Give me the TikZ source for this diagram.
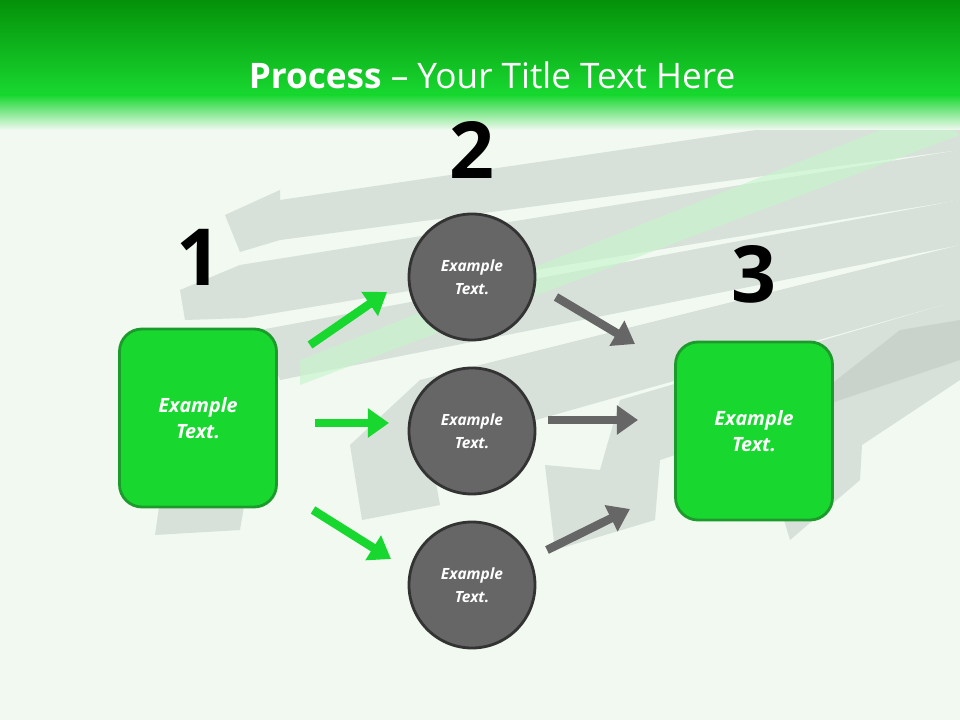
\documentclass[tikz,border=0pt]{standalone}
\usepackage{fontspec}
\setmainfont{Open Sans}
\usetikzlibrary{arrows.meta}
\definecolor{bg}{HTML}{F1F9F1}
\definecolor{gbox}{HTML}{18D830}
\definecolor{gedge}{HTML}{1C9A2C}
\definecolor{dk}{HTML}{666666}
\definecolor{gray3d}{HTML}{B8C4BC}
\tikzset{
  box/.style={draw=gedge,line width=2pt,fill=gbox,rounded corners=16pt,minimum width=157*0.025cm,minimum height=178*0.025cm,text=white,font=\bfseries\itshape\fontsize{14}{18}\selectfont,align=center},
  circ/.style={circle,draw=black!80,line width=2pt,fill=dk,minimum size=126*0.025cm,text=white,font=\bfseries\itshape\fontsize{11}{16}\selectfont,align=center},
  num/.style={font=\bfseries\fontsize{56}{60}\selectfont},
  garr/.style={draw=gbox,line width=6pt,-{Triangle[length=15pt,width=20pt]}},
  karr/.style={draw=dk,line width=6pt,-{Triangle[length=15pt,width=20pt]}},
  band/.style={fill=gray3d,opacity=0.45}
}
\begin{document}
\begin{tikzpicture}[x=0.025cm,y=-0.025cm]
\useasboundingbox (0,0) rectangle (960,720);
\fill[bg] (0,0) rectangle (960,720);
% background 3D arrows
\fill[band] (960,100) -- (280,200) -- (280,190) -- (225,215) -- (240,252) -- (280,240) -- (960,150) -- cycle;
\fill[band] (960,150) -- (240,265) -- (180,290) -- (185,320) -- (245,318) -- (960,200) -- cycle;
\fill[band] (960,200) -- (260,330) -- (280,380) -- (960,245) -- cycle;
\fill[gbox!25,opacity=0.6] (930,110) -- (300,360) -- (300,385) -- (960,135) -- cycle;
\fill[band] (960,245) -- (420,380) -- (350,445) -- (362,520) -- (440,505) -- (430,450) -- (960,300) -- cycle;
\fill[band] (960,300) -- (620,400) -- (600,470) -- (545,465) -- (555,550) -- (655,520) -- (660,460) -- (960,360) -- cycle;
\fill[band] (900,330) -- (760,440) -- (790,540) -- (860,480) -- (862,445) -- (960,380) -- (960,320) -- cycle;
\fill[band] (160,500) -- (155,535) -- (240,530) -- (245,500) -- cycle;
% title bar
\shade[top color=green!50!black!80!gbox,bottom color=gbox] (0,0) rectangle (960,95);
\shade[top color=gbox,bottom color=bg] (0,95) rectangle (960,130);
\node[text=white,font=\fontsize{25}{30}\selectfont] (title) at (492,75) {\textbf{Process} – Your Title Text Here};
% numbers
\node[num] (n1) at (199,257) {1};
\node[num] (n2) at (472,150) {2};
\node[num] (n3) at (754,274) {3};
% boxes and circles
\node[box] (b1) at (198,418) {Example\\Text.};
\node[box] (b3) at (754,431) {Example\\Text.};
\node[circ] (c1) at (472,277) {Example\\Text.};
\node[circ] (c2) at (472,431) {Example\\Text.};
\node[circ] (c3) at (472,585) {Example\\Text.};
% arrows
\coordinate (g1s) at (310,345); \coordinate (g1e) at (387,292);
\coordinate (g2s) at (315,423); \coordinate (g2e) at (389,423);
\coordinate (g3s) at (313,510); \coordinate (g3e) at (391,559);
\coordinate (k1s) at (556,297); \coordinate (k1e) at (635,344);
\coordinate (k2s) at (548,420); \coordinate (k2e) at (638,420);
\coordinate (k3s) at (547,550); \coordinate (k3e) at (630,509);
\draw[garr] (g1s) -- (g1e);
\draw[garr] (g2s) -- (g2e);
\draw[garr] (g3s) -- (g3e);
\draw[karr] (k1s) -- (k1e);
\draw[karr] (k2s) -- (k2e);
\draw[karr] (k3s) -- (k3e);
\end{tikzpicture}
\end{document}
